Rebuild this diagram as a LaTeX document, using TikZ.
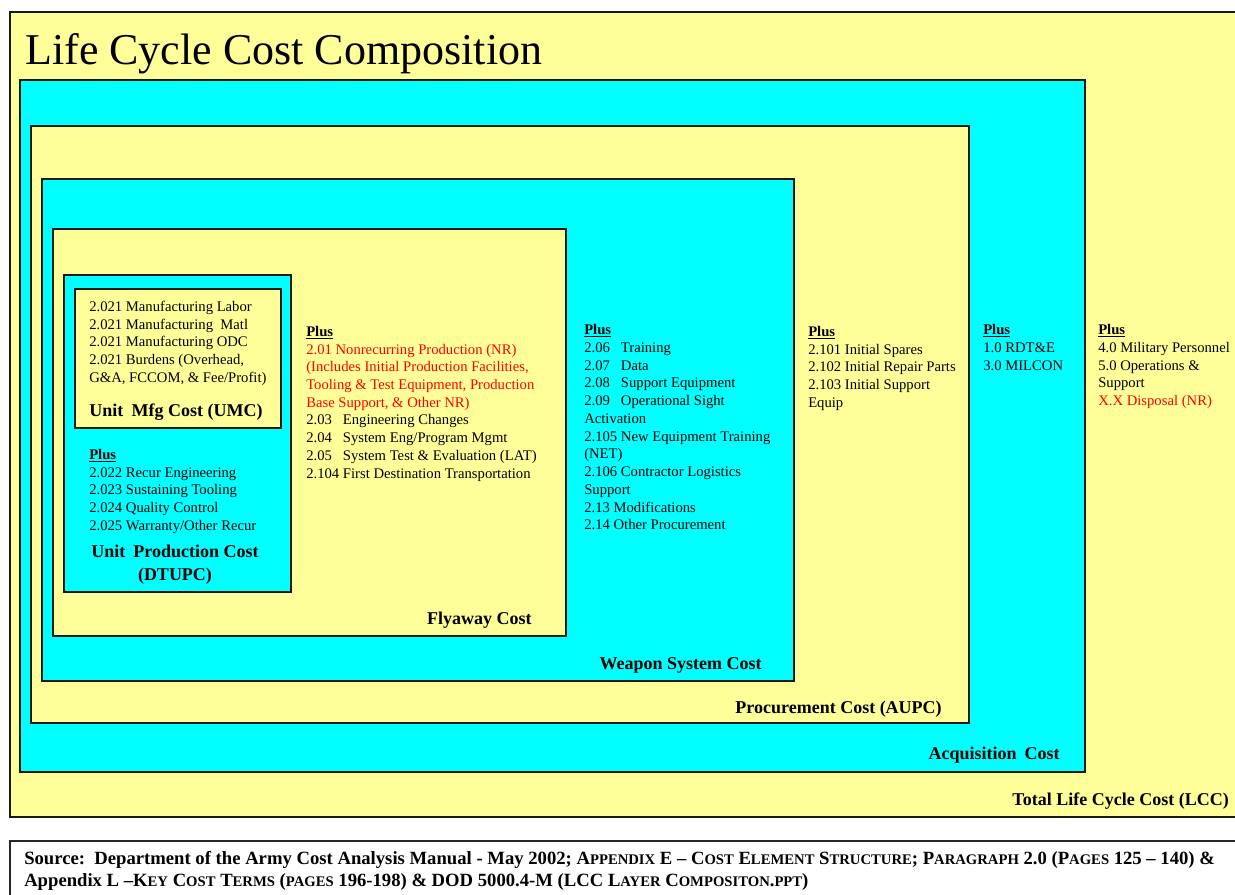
\documentclass[tikz,border=0pt]{standalone}
\usepackage{fontspec}
\setmainfont{Liberation Serif}
\definecolor{ly}{HTML}{FFFF99}
\definecolor{cy}{HTML}{00FFFF}
\definecolor{rd}{HTML}{FF0000}
\newcommand\sck[1]{{\fontsize{11}{12}\selectfont #1}}
\newcommand\nbx[1]{\makebox[2.5em][l]{#1}}
\newcommand\plusline{\strut\underline{\textbf{Plus}}}
\begin{document}
\begin{tikzpicture}[x=0.75pt,y=-0.75pt,
  ybox/.style={fill=ly,draw=black!90,line width=1.5pt},
  cbox/.style={fill=cy,draw=black!90,line width=1.5pt},
  txt/.style={anchor=north west,inner sep=0pt,align=left,font=\fontsize{11}{13.3}\selectfont},
  lbl/.style={anchor=base east,inner sep=0pt,font=\fontsize{13.5}{16}\selectfont\bfseries},
  clbl/.style={anchor=base,inner sep=0pt,align=center,font=\fontsize{13.5}{17}\selectfont\bfseries}]
\useasboundingbox (0,0) rectangle (1235,894);
\fill[white] (0,0) rectangle (1235,894);
% nested boxes
\draw[ybox] (10,12) rectangle (1245,817);
\draw[cbox] (20,80) rectangle (1085,772);
\draw[ybox] (31,126) rectangle (969,723);
\draw[cbox] (42,179) rectangle (794,681);
\draw[ybox] (53,229) rectangle (566,636);
\draw[cbox] (64,275) rectangle (291,592);
\draw[ybox] (75,289) rectangle (281,428);
% source box
\draw[fill=white,draw=black!85,line width=1.5pt] (10,841) rectangle (1245,900);
% title
\node[anchor=base west,inner sep=0pt,font=\fontsize{33}{40}\selectfont] (title) at (25,64) {Life Cycle Cost Composition};
% UMC
\node[txt] (umc) at (89,298.6) {\strut 2.021 Manufacturing Labor\\2.021 Manufacturing\ \ Matl\\2.021 Manufacturing ODC\\2.021 Burdens (Overhead,\\G\&A, FCCOM, \& Fee/Profit)};
\node[clbl] (umcl) at (176,416) {Unit\hspace{0.2em} Mfg Cost (UMC)};
% UPC
\node[txt] (upc) at (89,446.6) {\plusline\\2.022 Recur Engineering\\2.023 Sustaining Tooling\\2.024 Quality Control\\2.025 Warranty/Other Recur};
\node[clbl] (upcl) at (175,580) {Unit\hspace{0.2em} Production Cost\\(DTUPC)};
% Flyaway
\node[txt] (fly) at (306,323.6) {\plusline\\\textcolor{rd}{2.01 Nonrecurring Production (NR)}\\\textcolor{rd}{(Includes Initial Production Facilities,}\\\textcolor{rd}{Tooling \& Test Equipment, Production}\\\textcolor{rd}{Base Support, \& Other NR)}\\\nbx{2.03}Engineering Changes\\\nbx{2.04}System Eng/Program Mgmt\\\nbx{2.05}System Test \& Evaluation\ (LAT)\\2.104 First Destination Transportation};
\node[lbl] (flyl) at (532,624) {Flyaway Cost};
% Weapon
\node[txt] (wpn) at (584,322) {\plusline\\\nbx{2.06}Training\\\nbx{2.07}Data\\\nbx{2.08}Support Equipment\\\nbx{2.09}Operational Sight\\Activation\\2.105 New Equipment Training\\(NET)\\2.106 Contractor Logistics\\Support\\2.13 Modifications\\2.14 Other Procurement};
\node[lbl] (wpnl) at (762,669) {Weapon System Cost};
% Procurement
\node[txt] (proc) at (808,323.6) {\plusline\\2.101 Initial Spares\\2.102 Initial Repair Parts\\2.103 Initial Support\\Equip};
\node[lbl] (procl) at (942,713) {Procurement Cost (AUPC)};
% Acquisition
\node[txt] (acq) at (983,322) {\plusline\\1.0 RDT\&E\\3.0 MILCON};
\node[lbl] (acql) at (1060,759) {Acquisition\hspace{0.2em} Cost};
% LCC
\node[txt] (lcc) at (1098,322) {\plusline\\4.0 Military Personnel\\5.0 Operations \&\\Support\\\textcolor{rd}{X.X Disposal (NR)}};
\node[lbl] (lccl) at (1229,805) {Total Life Cycle Cost (LCC)};
% source
\node[anchor=base west,inner sep=0pt,align=left,font=\fontsize{14}{16.5}\selectfont\bfseries] (src) at (24,886) {Source:\ \ Department of the Army Cost Analysis Manual - May 2002; A\sck{PPENDIX} E -- C\sck{OST} E\sck{LEMENT} S\sck{TRUCTURE}; P\sck{ARAGRAPH} 2.0 (P\sck{AGES} 125 -- 140) \&\\Appendix L --K\sck{EY} C\sck{OST} T\sck{ERMS} (\sck{PAGES} 196-198) \& DOD 5000.4-M (LCC L\sck{AYER} C\sck{OMPOSITON}.\sck{PPT})};
\end{tikzpicture}
\end{document}
